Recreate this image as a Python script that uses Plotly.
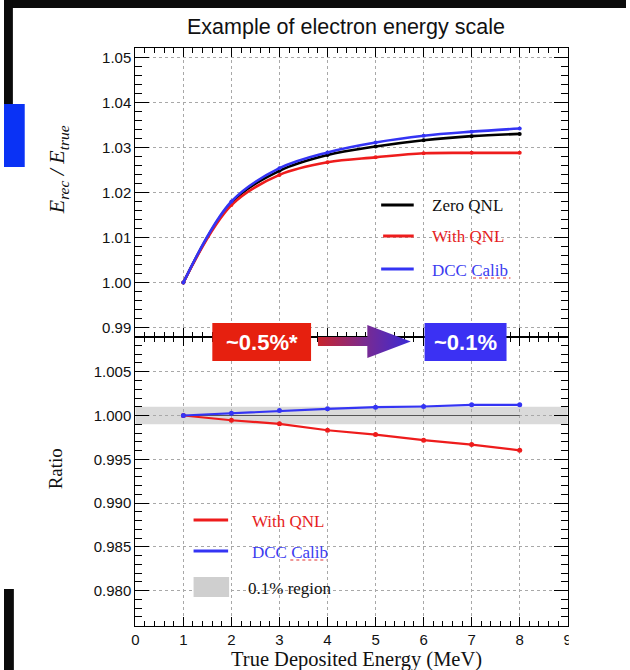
import plotly.graph_objects as go

# ---------------- data ----------------
energy = [1, 2, 3, 4, 5, 6, 7, 8]
zero_qnl = [1.000, 1.0177, 1.0248, 1.0283, 1.0302, 1.0316, 1.0325, 1.0330]
with_qnl = [1.000, 1.0172, 1.0239, 1.0267, 1.0278, 1.0287, 1.0288, 1.0288]
dcc_calib = [1.000, 1.0180, 1.0254, 1.0289, 1.0311, 1.0326, 1.0335, 1.0342]
ratio_zero = [1.0, 1.0, 1.0, 1.0, 1.0, 1.0, 1.0, 1.0]
ratio_with = [1.0, 0.99946, 0.99905, 0.99832, 0.99782, 0.99718, 0.99668, 0.99603]
ratio_dcc = [1.0, 1.00026, 1.00057, 1.00076, 1.00095, 1.00103, 1.00122, 1.00122]
band_lo, band_hi = 0.999, 1.001

W, H = 630, 670
RED = "#ee1c1c"
BLUE = "#3434f4"
RED_TXT = "#e61e1e"
BLUE_TXT = "#3c3cf0"


def px(x):
    return x / W


def py(y):
    return 1 - y / H


fig = go.Figure()

# slide background pieces (pixel-unit overlay axis, drawn first)
for bx, by, col in [
    ([0, 630, 630, 0, 0], [0, 0, 8, 8, 0], "#0b0b0b"),
    ([0, 9, 9, 0, 0], [0, 0, 104, 104, 0], "#0b0b0b"),
    ([0, 21, 21, 0, 0], [104, 104, 167, 167, 104], "#0a32f5"),
    ([0, 10, 10, 0, 0], [589, 589, 670, 670, 589], "#0b0b0b"),
]:
    fig.add_trace(go.Scatter(x=bx, y=by, mode="lines", fill="toself", fillcolor=col,
                             line=dict(width=0, color=col), xaxis="x3", yaxis="y3",
                             showlegend=False, hoverinfo="skip"))

# upper pad curves
for vals, col in [(zero_qnl, "black"), (with_qnl, RED), (dcc_calib, BLUE)]:
    fig.add_trace(go.Scatter(x=energy, y=vals, mode="lines+markers",
                             line=dict(color=col, width=2.6, shape="spline"),
                             marker=dict(color=col, size=4),
                             xaxis="x", yaxis="y", showlegend=False, hoverinfo="skip"))

# lower pad ratios
fig.add_trace(go.Scatter(x=energy, y=ratio_zero, mode="lines",
                         line=dict(color="#555555", width=1.2),
                         xaxis="x2", yaxis="y2", showlegend=False, hoverinfo="skip"))
for vals, col in [(ratio_with, RED), (ratio_dcc, BLUE)]:
    fig.add_trace(go.Scatter(x=energy, y=vals, mode="lines+markers",
                             line=dict(color=col, width=2.2),
                             marker=dict(color=col, size=5),
                             xaxis="x2", yaxis="y2", showlegend=False, hoverinfo="skip"))

# gradient arrow on a full-page overlay axis (pixel units)
arrow_x = [318, 368, 368, 412, 368, 368, 318, 318]
arrow_y = [337, 337, 325, 341.5, 358, 346, 346, 337]
fig.add_trace(go.Scatter(x=arrow_x, y=arrow_y, mode="lines", fill="toself",
                         line=dict(width=0, color="rgba(0,0,0,0)"),
                         fillgradient=dict(type="horizontal",
                                           colorscale=[[0, "#c8242c"], [0.5, "#7a2a90"], [1, "#3a2ad6"]]),
                         xaxis="x3", yaxis="y3", showlegend=False, hoverinfo="skip"))

xd = [px(133), px(571)]
up_dom = [py(336.7), py(48.3)]
lo_dom = [py(625.7), py(336.7)]

grid = dict(showgrid=True, gridcolor="#a8a8a8", griddash="dot", gridwidth=1)
axis_common = dict(showline=True, linecolor="black", linewidth=1, mirror="allticks",
                   ticks="inside", tickcolor="black", zeroline=False, tickmode="linear",
                   tickfont=dict(family="Liberation Sans, Arial", size=15, color="#111"))

fig.update_layout(
    width=W, height=H,
    margin=dict(l=0, r=0, t=0, b=0),
    paper_bgcolor="white", plot_bgcolor="rgba(0,0,0,0)",
    xaxis=dict(domain=xd, anchor="y", range=[0, 9], tick0=0, dtick=1, showticklabels=False,
               ticklen=9, minor=dict(dtick=0.2, tick0=0, ticks="inside", ticklen=5, tickcolor="black", showgrid=False),
               **grid, **axis_common),
    yaxis=dict(domain=up_dom, anchor="x", range=[0.988, 1.052], tick0=0.99, dtick=0.01,
               tickformat=".2f", ticklen=14,
               minor=dict(dtick=0.002, tick0=0.99, ticks="inside", ticklen=7, tickcolor="black", showgrid=False),
               **grid, **axis_common),
    xaxis2=dict(domain=xd, anchor="y2", range=[0, 9], tick0=0, dtick=1, matches="x",
                ticklen=9, minor=dict(dtick=0.2, tick0=0, ticks="inside", ticklen=5, tickcolor="black", showgrid=False),
                **grid, **axis_common),
    yaxis2=dict(domain=lo_dom, anchor="x2", range=[0.976, 1.009], tick0=0.98, dtick=0.005,
                tickformat=".3f", ticklen=14,
                minor=dict(dtick=0.001, tick0=0.98, ticks="inside", ticklen=7, tickcolor="black", showgrid=False),
                **grid, **axis_common),
    xaxis3=dict(domain=[0, 1], anchor="y3", range=[0, W], visible=False, fixedrange=True),
    yaxis3=dict(domain=[0, 1], anchor="x3", range=[H, 0], visible=False, fixedrange=True),
    hovermode=False,
)

shapes = []
# 0.1% band
shapes.append(dict(type="rect", xref="x2", yref="y2", x0=0, x1=9, y0=band_lo, y1=band_hi,
                   fillcolor="#dadada", line=dict(width=0), layer="below"))
# legend white boxes (hide grid)
shapes.append(dict(type="rect", xref="paper", yref="paper", x0=px(403), x1=px(537), y0=py(281), y1=py(186),
                   fillcolor="white", line=dict(width=0), layer="between"))
shapes.append(dict(type="rect", xref="paper", yref="paper", x0=px(224), x1=px(343), y0=py(612), y1=py(508),
                   fillcolor="white", line=dict(width=0), layer="between"))


def hline(x0, x1, y, col, w=3, dash="solid"):
    return dict(type="line", xref="paper", yref="paper", x0=px(x0), x1=px(x1), y0=py(y), y1=py(y),
                line=dict(color=col, width=w, dash=dash), layer="above")


# upper legend
shapes += [hline(382, 415, 205, "black"), hline(384, 415, 236, RED), hline(382, 415, 269, BLUE),
           hline(475, 513, 278, "#e03030", 1.2, "dot")]
# lower legend
shapes += [hline(192, 227, 520, RED), hline(192, 227, 551, BLUE),
           hline(290, 327, 560, "#e03030", 1.2, "dot"),
           dict(type="rect", xref="paper", yref="paper", x0=px(192), x1=px(228), y0=py(597), y1=py(577),
                fillcolor="#cfcfcf", line=dict(width=0), layer="above")]
# boxes for annotations
shapes += [
    dict(type="rect", xref="paper", yref="paper", x0=px(211), x1=px(311), y0=py(361), y1=py(323),
         fillcolor="#e6200f", line=dict(width=0), layer="above"),
    dict(type="rect", xref="paper", yref="paper", x0=px(426), x1=px(509), y0=py(361), y1=py(323),
         fillcolor="#3b31f3", line=dict(width=0), layer="above"),
    # crop of the "9" label
    dict(type="rect", xref="paper", yref="paper", x0=px(572), x1=1, y0=py(648), y1=py(628),
         fillcolor="white", line=dict(width=0), layer="above"),
]
fig.update_layout(shapes=shapes)

serif = "Liberation Serif, Times New Roman, serif"
sans = "Liberation Sans, Arial, sans-serif"


def ann(x, y, text, size, color="black", family=serif, xanchor="left", angle=0):
    return dict(x=px(x), y=py(y), xref="paper", yref="paper", text=text, showarrow=False,
                xanchor=xanchor, yanchor="middle", textangle=angle,
                font=dict(family=family, size=size, color=color))


anns = [
    ann(346, 27, "Example of electron energy scale", 21.5, "#111", sans, "center"),
    ann(357, 659, "True Deposited Energy (MeV)", 20.5, "#111", serif, "center"),
    ann(55, 170, "<i>E</i><sub><i>rec</i></sub><i> / E</i><sub><i>true</i></sub>", 22, "#111", serif, "center", -90),
    ann(53, 469, "Ratio", 19, "#111", serif, "center", -90),
    ann(431, 206, "Zero QNL", 17, "#111"),
    ann(431, 237, "With QNL", 17, RED_TXT),
    ann(431, 270, "DCC Calib", 17, BLUE_TXT),
    ann(249, 521, "With QNL", 17, RED_TXT),
    ann(249, 552, "DCC Calib", 17, BLUE_TXT),
    ann(245, 588, "0.1% region", 17, "#111"),
    ann(261, 342, "<b>~0.5%*</b>", 22, "white", sans, "center"),
    ann(467.5, 342, "<b>~0.1%</b>", 22, "white", sans, "center"),
]
fig.update_layout(annotations=anns)

fig.write_html("out.html", config={"displayModeBar": False})
